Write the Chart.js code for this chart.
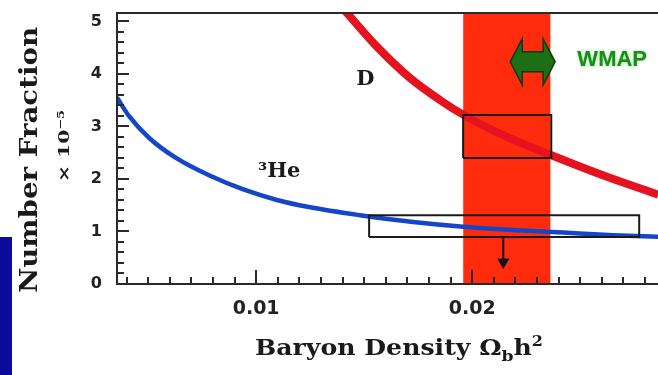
<!DOCTYPE html>
<html>
<head>
<meta charset="utf-8">
<script src="https://cdn.jsdelivr.net/npm/chart.js@4.4.1/dist/chart.umd.min.js"></script>
<style>
  html, body { margin: 0; padding: 0; background: #fff; }
  #wrap { position: relative; width: 658px; height: 375px; overflow: hidden; }
  #bbn-chart { position: absolute; left: 0; top: 0; }
  #strip { position: absolute; left: 0; top: 237px; width: 12px; height: 138px; background: #0b0c9c; }
</style>
</head>
<body>
<div id="wrap">
  <canvas id="bbn-chart" width="658" height="375"></canvas>
  <div id="strip"></div>
</div>
<script>
// ---- values (abundance x 10^-5 vs baryon density) ----
const deuteriumX = [0.0138, 0.0142, 0.01559, 0.01713, 0.01852, 0.0196, 0.02161, 0.02361, 0.02624, 0.02861];
const deuteriumY = [5.34, 5.16, 4.52, 3.92, 3.50, 3.22, 2.80, 2.46, 2.04, 1.70];

const helium3X = [0.00356, 0.00413, 0.00505, 0.00629, 0.00787, 0.00941, 0.01096, 0.0125, 0.01481, 0.01727, 0.01958, 0.0219, 0.02421, 0.02653, 0.02865];
const helium3Y = [3.55, 3.19, 2.78, 2.40, 2.06, 1.80, 1.60, 1.46, 1.31, 1.18, 1.09, 1.03, 0.98, 0.93, 0.90];

// WMAP band and arrow
const bandX = [0.01958, 0.02363];
const bandTop = 6;
const wmapArrowX = [0.02176, 0.02384];
const wmapArrowY = 4.23;

// observation boxes
const dBoxX = [0.01958, 0.02366];
const dBoxY = [2.40, 3.22];
const heBoxX = [0.01523, 0.02773];
const heBoxY = [0.895, 1.31];
const heLimitX = 0.02144;
const heLimitY = [0.895, 0.42];

// axes
const xRange = [0.00356, 0.0286];
const yRange = [0, 5.16];
const xTicks = [0.01, 0.02];
const yTicks = [0, 1, 2, 3, 4, 5];
const xMinorStep = 0.001;
const yMinorStep = 0.2;

// in-plot labels
const labelTexts = ['D', '\u00B3He', 'WMAP'];
const labelX = [0.01505, 0.01107, 0.02648];
const labelY = [3.90, 2.15, 4.27];

const pts = (xs, ys) => xs.map((x, i) => ({ x: x, y: ys[i] }));
const box = (bx, by) => [
    { x: bx[0], y: by[0] }, { x: bx[1], y: by[0] },
    { x: bx[1], y: by[1] }, { x: bx[0], y: by[1] }, { x: bx[0], y: by[0] }
];

// draws text squeezed/stretched horizontally to a target width
function fitText(ctx, text, x, y, targetW) {
    const w = ctx.measureText(text).width;
    ctx.save();
    ctx.translate(x, y);
    ctx.scale(targetW / w, 1);
    ctx.textAlign = 'center';
    ctx.fillText(text, 0, 0);
    ctx.restore();
}

const decorPlugin = {
    id: 'bbnDecor',
    afterDatasetsDraw(chart) {
        const ctx = chart.ctx;
        const a = chart.chartArea;
        const xs = chart.scales.x, ys = chart.scales.y;

        // WMAP double arrow
        const x1 = xs.getPixelForValue(wmapArrowX[0]);
        const x2 = xs.getPixelForValue(wmapArrowX[1]);
        const cy = ys.getPixelForValue(wmapArrowY);
        const hl = 12, hh = 23, sh = 10;
        ctx.save();
        ctx.beginPath();
        ctx.moveTo(x1, cy);
        ctx.lineTo(x1 + hl, cy - hh);
        ctx.lineTo(x1 + hl, cy - sh);
        ctx.lineTo(x2 - hl, cy - sh);
        ctx.lineTo(x2 - hl, cy - hh);
        ctx.lineTo(x2, cy);
        ctx.lineTo(x2 - hl, cy + hh);
        ctx.lineTo(x2 - hl, cy + sh);
        ctx.lineTo(x1 + hl, cy + sh);
        ctx.lineTo(x1 + hl, cy + hh);
        ctx.closePath();
        ctx.fillStyle = '#1d6e14';
        ctx.fill();
        ctx.lineWidth = 1.5;
        ctx.strokeStyle = '#0d3a08';
        ctx.stroke();

        // frame
        ctx.strokeStyle = '#2a2a2a';
        ctx.lineWidth = 2;
        ctx.beginPath();
        ctx.moveTo(a.right, a.top);
        ctx.lineTo(a.left, a.top);
        ctx.lineTo(a.left, a.bottom);
        ctx.lineTo(a.right, a.bottom);
        ctx.stroke();

        // inward ticks
        ctx.beginPath();
        for (let v = Math.ceil(xRange[0] / xMinorStep) * xMinorStep; v <= xRange[1]; v += xMinorStep) {
            const major = xTicks.some(t => Math.abs(t - v) < 1e-6);
            const px = Math.round(xs.getPixelForValue(v));
            ctx.moveTo(px, a.bottom);
            ctx.lineTo(px, a.bottom - (major ? 14 : 7));
        }
        for (let v = yRange[0]; v <= yRange[1] + 1e-9; v += yMinorStep) {
            const major = yTicks.some(t => Math.abs(t - v) < 1e-6);
            const py = Math.round(ys.getPixelForValue(v));
            ctx.moveTo(a.left, py);
            ctx.lineTo(a.left + (major ? 12 : 7), py);
        }
        ctx.stroke();
        ctx.restore();
    },
    afterDraw(chart) {
        const ctx = chart.ctx;
        const xs = chart.scales.x, ys = chart.scales.y;
        ctx.save();
        ctx.textBaseline = 'middle';

        // in-plot labels
        labelTexts.forEach((t, i) => {
            const px = xs.getPixelForValue(labelX[i]);
            const py = ys.getPixelForValue(labelY[i]);
            ctx.textAlign = 'center';
            if (t === 'WMAP') {
                ctx.font = 'bold 22px "Liberation Sans", Arial, sans-serif';
                ctx.fillStyle = '#1f8a1c';
                ctx.shadowColor = 'rgba(60, 220, 60, 0.7)';
                ctx.shadowBlur = 3;
            } else {
                ctx.font = 'bold 21px "DejaVu Serif", serif';
                ctx.fillStyle = '#1a1a1a';
                ctx.shadowBlur = 0;
            }
            ctx.fillText(t, px, py);
        });
        ctx.shadowBlur = 0;
        ctx.fillStyle = '#1a1a1a';

        // y axis title
        ctx.save();
        ctx.translate(37, 160);
        ctx.rotate(-Math.PI / 2);
        ctx.textBaseline = 'alphabetic';
        ctx.font = 'bold 24px "DejaVu Serif", serif';
        fitText(ctx, 'Number Fraction', 0, 0, 266);
        ctx.font = 'bold 15px "DejaVu Serif", serif';
        fitText(ctx, '\u00D7 10\u207B\u2075', 14, 32, 72);
        ctx.restore();

        // x axis title with sub/superscripts
        const runs = [
            { t: 'Baryon Density \u03A9', f: 'bold 22px "DejaVu Serif", serif', dy: 0 },
            { t: 'b', f: 'bold 15px "DejaVu Serif", serif', dy: 6 },
            { t: 'h', f: 'bold 22px "DejaVu Serif", serif', dy: 0 },
            { t: '2', f: 'bold 14px "DejaVu Serif", serif', dy: -9 }
        ];
        let total = 0;
        runs.forEach(r => { ctx.font = r.f; r.w = ctx.measureText(r.t).width; total += r.w; });
        const targetW = 288;
        ctx.translate(399 - targetW / 2, 355);
        ctx.scale(targetW / total, 1);
        ctx.textAlign = 'left';
        ctx.textBaseline = 'alphabetic';
        let cx = 0;
        runs.forEach(r => { ctx.font = r.f; ctx.fillText(r.t, cx, r.dy); cx += r.w; });
        ctx.restore();
    }
};

const canvas = document.getElementById('bbn-chart');
new Chart(canvas, {
    type: 'line',
    data: {
        datasets: [{
            label: 'He3 limit',
            data: pts([heLimitX, heLimitX], heLimitY),
            borderColor: '#111',
            backgroundColor: '#111',
            borderWidth: 2,
            pointRadius: [0, 5],
            pointStyle: 'triangle',
            rotation: 180,
            order: 1,
            clip: false
        }, {
            label: 'D box',
            data: box(dBoxX, dBoxY),
            borderColor: '#1a1a1a',
            borderWidth: 2,
            pointRadius: 0,
            fill: false,
            order: 2,
            clip: false
        }, {
            label: 'He3 box',
            data: box(heBoxX, heBoxY),
            borderColor: '#1a1a1a',
            borderWidth: 2,
            pointRadius: 0,
            fill: false,
            order: 2,
            clip: false
        }, {
            label: 'D',
            data: pts(deuteriumX, deuteriumY),
            borderColor: '#e5121f',
            borderWidth: 8,
            pointRadius: 0,
            cubicInterpolationMode: 'monotone',
            fill: false,
            order: 3,
            clip: 0
        }, {
            label: '3He',
            data: pts(helium3X, helium3Y),
            borderColor: '#1646c8',
            borderWidth: 4.5,
            pointRadius: 0,
            cubicInterpolationMode: 'monotone',
            fill: false,
            order: 3,
            clip: 0
        }, {
            label: 'WMAP band',
            data: pts(bandX, [bandTop, bandTop]),
            borderWidth: 0,
            borderColor: 'rgba(0,0,0,0)',
            backgroundColor: '#ff2b0d',
            pointRadius: 0,
            fill: 'origin',
            order: 5,
            clip: 0
        }]
    },
    options: {
        responsive: false,
        animation: false,
        devicePixelRatio: 1,
        layout: { autoPadding: false, padding: { top: 13, right: 0, left: 0, bottom: 0 } },
        plugins: {
            legend: { display: false },
            tooltip: { enabled: false }
        },
        scales: {
            x: {
                type: 'linear',
                min: xRange[0],
                max: xRange[1],
                grid: { display: false, drawTicks: false },
                border: { display: false },
                afterBuildTicks: s => { s.ticks = xTicks.map(v => ({ value: v })); },
                afterFit: s => { s.height = 91; s.paddingLeft = 0; s.paddingRight = 0; },
                ticks: {
                    padding: 14,
                    maxRotation: 0,
                    autoSkip: false,
                    color: '#222',
                    font: { family: '"DejaVu Sans", sans-serif', size: 19, weight: 'bold' },
                    callback: v => v.toFixed(2)
                }
            },
            y: {
                type: 'linear',
                min: yRange[0],
                max: yRange[1],
                grid: { display: false, drawTicks: false },
                border: { display: false },
                afterBuildTicks: s => { s.ticks = yTicks.map(v => ({ value: v })); },
                afterFit: s => { s.width = 117; s.paddingTop = 0; s.paddingBottom = 0; },
                ticks: {
                    padding: 15,
                    color: '#222',
                    font: { family: '"DejaVu Sans", sans-serif', size: 16, weight: 'bold' },
                    callback: v => String(v)
                }
            }
        }
    },
    plugins: [decorPlugin]
});
</script>
</body>
</html>
